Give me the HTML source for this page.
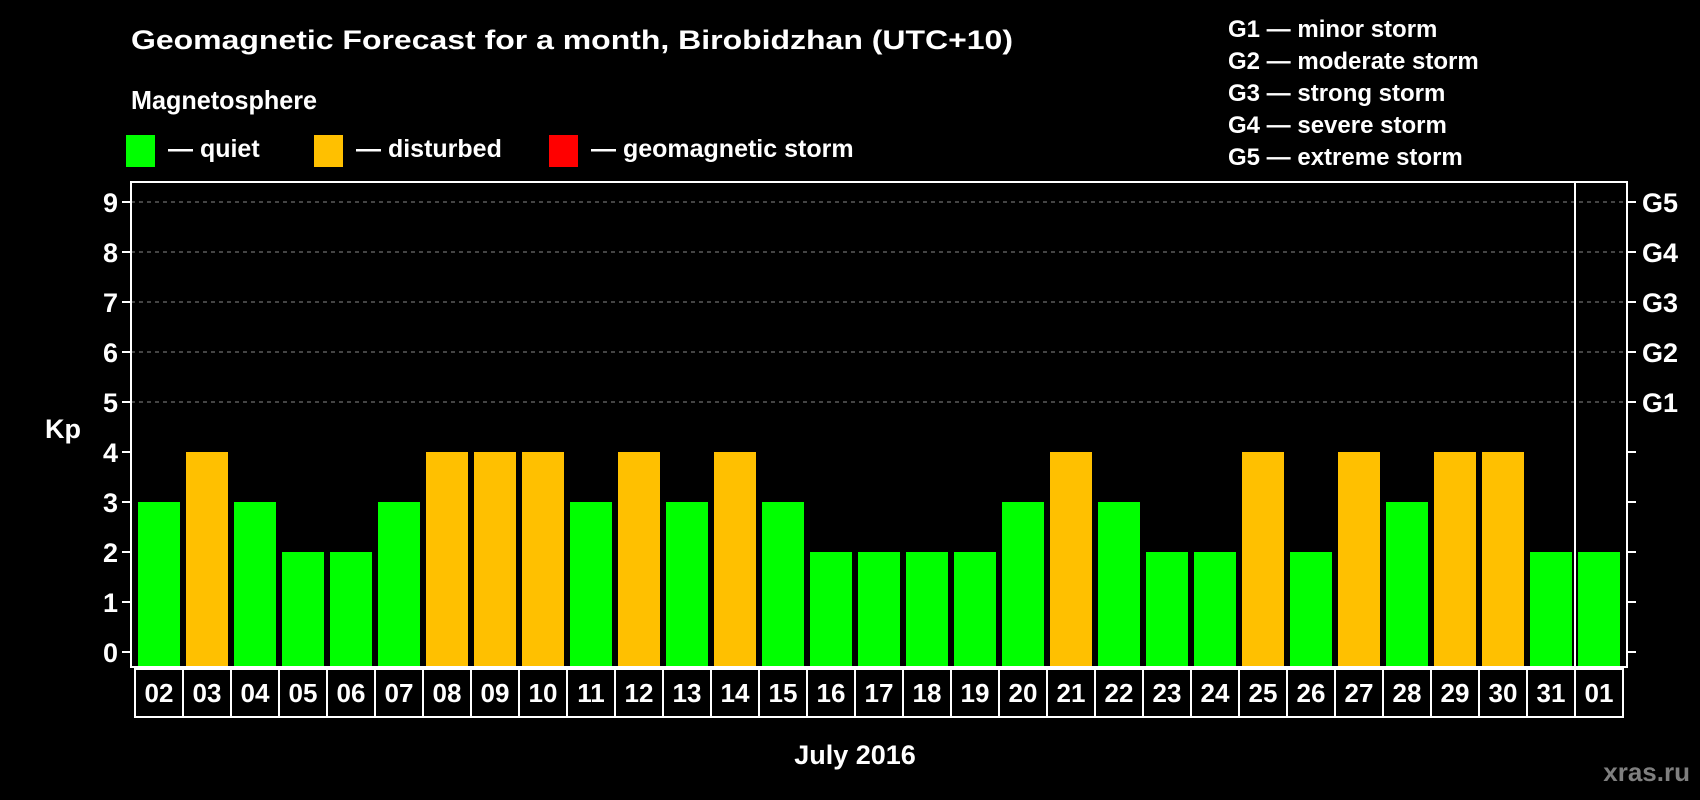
<!DOCTYPE html>
<html><head><meta charset="utf-8">
<style>
html,body{margin:0;padding:0;background:#000;}
svg{display:block;font-family:"Liberation Sans",Arial,sans-serif;font-weight:bold;}
</style></head>
<body>
<svg id="chart" width="1700" height="800" viewBox="0 0 1700 800" xmlns="http://www.w3.org/2000/svg">
<rect x="0" y="0" width="1700" height="800" fill="#000"/>
<text x="131" y="49" fill="#fff" font-size="27" textLength="882" lengthAdjust="spacingAndGlyphs">Geomagnetic Forecast for a month, Birobidzhan (UTC+10)</text>
<text x="131" y="109" fill="#fff" font-size="26" textLength="186" lengthAdjust="spacingAndGlyphs">Magnetosphere</text>
<g>
<rect x="126" y="135" width="29" height="32" fill="#00ff00"/>
<text x="168" y="157" fill="#fff" font-size="25">— quiet</text>
</g>
<g>
<rect x="314" y="135" width="29" height="32" fill="#ffc000"/>
<text x="356" y="157" fill="#fff" font-size="25">— disturbed</text>
</g>
<g>
<rect x="549" y="135" width="29" height="32" fill="#ff0000"/>
<text x="591" y="157" fill="#fff" font-size="25">— geomagnetic storm</text>
</g>
<g fill="#fff" font-size="24">
<text x="1228" y="37">G1 — minor storm</text>
<text x="1228" y="69">G2 — moderate storm</text>
<text x="1228" y="101">G3 — strong storm</text>
<text x="1228" y="133">G4 — severe storm</text>
<text x="1228" y="165">G5 — extreme storm</text>
</g>
<g id="grid"></g>
<g id="bars"></g>
<rect x="131" y="182" width="1496" height="485" fill="none" stroke="#fff" stroke-width="2"/>
<line x1="1575" y1="182" x2="1575" y2="667" stroke="#fff" stroke-width="2"/>
<g id="yaxis"></g>
<g id="xaxis"></g>
<text x="63" y="438" fill="#fff" font-size="27" text-anchor="middle">Kp</text>
<text x="855" y="764" fill="#fff" font-size="27" text-anchor="middle">July 2016</text>
<text x="1690" y="781" fill="#7f7f7f" font-size="26" text-anchor="end">xras.ru</text>
</svg>
<script>
const days = ["02","03","04","05","06","07","08","09","10","11","12","13","14","15","16","17","18","19","20","21","22","23","24","25","26","27","28","29","30","31","01"];
const kpValues = [3,4,3,2,2,3,4,4,4,3,4,3,4,3,2,2,2,2,3,4,3,2,2,4,2,4,3,4,4,2,2];
const yTicks = [0,1,2,3,4,5,6,7,8,9];
const gLabels = ["G1","G2","G3","G4","G5"];

const NS = "http://www.w3.org/2000/svg";
const plotLeft = 131, plotRight = 1627, plotBottom = 667;
const firstBar = 138, pitch = 48, barW = 42;
function yScale(v){ return 652 - v * 50; }
function xScale(i){ return firstBar + i * pitch; }
function mk(tag, attrs, parent){
  const el = document.createElementNS(NS, tag);
  for (const k in attrs) el.setAttribute(k, attrs[k]);
  parent.appendChild(el);
  return el;
}
const grid = document.getElementById('grid');
const bars = document.getElementById('bars');
const yaxis = document.getElementById('yaxis');
const xaxis = document.getElementById('xaxis');

yTicks.forEach(v => {
  const y = yScale(v);
  if (v >= 5) {
    const gl = mk('line', {x1: plotLeft, x2: plotRight, y1: y, y2: y, stroke: '#888', 'stroke-width': 1, 'stroke-dasharray': '4,4'}, grid);
    
    
  }
  const t = mk('line', {x1: 122, x2: plotLeft, y1: y, y2: y, stroke: '#fff', 'stroke-width': 2}, yaxis);
  
  
  const t2 = mk('line', {x1: plotRight, x2: 1636, y1: y, y2: y, stroke: '#fff', 'stroke-width': 2}, yaxis);
  
  
  const lb = mk('text', {x: 118, y: y + 10, fill: '#fff', 'font-size': 27, 'text-anchor': 'end'}, yaxis);
  lb.textContent = v;
  
  
});
gLabels.forEach((g, i) => {
  const lb = mk('text', {x: 1642, y: yScale(5 + i) + 10, fill: '#fff', 'font-size': 27}, yaxis);
  lb.textContent = g;
  
  
});
kpValues.forEach((v, i) => {
  const x = xScale(i);
  const y = yScale(v);
  const r = mk('rect', {x: x, y: y, width: barW, height: plotBottom - y, fill: v >= 5 ? '#ff0000' : (v >= 4 ? '#ffc000' : '#00ff00')}, bars);
  
  
});
days.forEach((d, i) => {
  const x = 135 + i * pitch;
  const c = mk('rect', {x: x, y: 669, width: pitch, height: 48, fill: 'none', stroke: '#fff', 'stroke-width': 2}, xaxis);
  
  
  const t = mk('text', {x: x + pitch / 2, y: 702, fill: '#fff', 'font-size': 26, 'text-anchor': 'middle'}, xaxis);
  t.textContent = d;
  
  
});
</script>
</body></html>
